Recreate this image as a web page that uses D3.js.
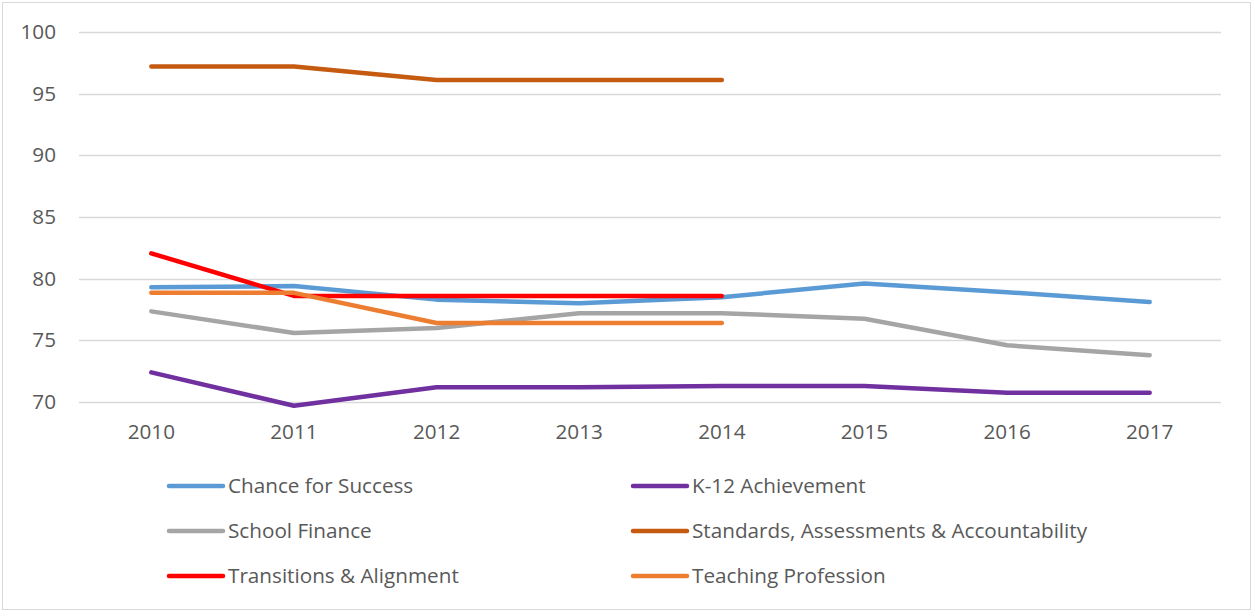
<!DOCTYPE html>
<html>
<head>
<meta charset="utf-8">
<script src="https://cdn.jsdelivr.net/npm/d3@7"></script>
<style>
  html, body { margin: 0; padding: 0; background: #fff; }
  svg { display: block; }
  text { font-family: "Open Sans", sans-serif; fill: #595959; }
</style>
</head>
<body>
<svg id="chart" width="1255" height="616"></svg>
<script>
const years = ["2010", "2011", "2012", "2013", "2014", "2015", "2016", "2017"];
const yTicks = [70, 75, 80, 85, 90, 95, 100];

const seriesNames = [
  "Chance for Success",
  "K-12 Achievement",
  "School Finance",
  "Standards, Assessments & Accountability",
  "Transitions & Alignment",
  "Teaching Profession"
];
const seriesColors = ["#5B9BD5", "#7030A0", "#A5A5A5", "#C55A11", "#FF0000", "#ED7D31"];

const chanceForSuccess   = [79.3, 79.4, 78.3, 78.0, 78.5, 79.6, 78.9, 78.1];
const k12Achievement     = [72.4, 69.7, 71.2, 71.2, 71.3, 71.3, 70.75, 70.75];
const schoolFinance      = [77.35, 75.6, 76.0, 77.2, 77.2, 76.75, 74.6, 73.8];
const standardsAA        = [97.2, 97.2, 96.1, 96.1, 96.1, null, null, null];
const transitions        = [82.05, 78.6, 78.6, 78.6, 78.6, null, null, null];
const teachingProfession = [78.85, 78.85, 76.4, 76.4, 76.4, null, null, null];

const seriesValues = [chanceForSuccess, k12Achievement, schoolFinance, standardsAA, transitions, teachingProfession];

const svg = d3.select("#chart");
const FONT = "20.7px";

// outer border
svg.append("rect")
  .attr("x", 2.5).attr("y", 2.5)
  .attr("width", 1248).attr("height", 607)
  .attr("fill", "#fff").attr("stroke", "#D9D9D9").attr("stroke-width", 1);

const plot = { left: 80, right: 1221, top: 32, bottom: 402 };

const x = d3.scaleBand().domain(years).range([plot.left, plot.right]);
const y = d3.scaleLinear().domain([70, 100]).range([plot.bottom, plot.top]);

// gridlines
svg.append("g")
  .selectAll("line")
  .data(yTicks)
  .join("line")
  .attr("x1", plot.left - 1).attr("x2", plot.right)
  .attr("y1", d => Math.round(y(d)) + 0.5).attr("y2", d => Math.round(y(d)) + 0.5)
  .attr("stroke", "#D9D9D9").attr("stroke-width", 1.5);

// y axis labels
const yAxis = d3.axisLeft(y).tickValues(yTicks).tickSize(0).tickPadding(24);
const gy = svg.append("g").attr("transform", `translate(${plot.left},0)`).call(yAxis);
gy.select(".domain").remove();
gy.selectAll("text").style("font-size", FONT).style("font-family", "'Open Sans', sans-serif").attr("fill", "#595959");

// x axis labels
const xAxis = d3.axisBottom(x).tickSize(0).tickPadding(22);
const gx = svg.append("g").attr("transform", `translate(0,${plot.bottom})`).call(xAxis);
gx.select(".domain").remove();
gx.selectAll("text").style("font-size", FONT).style("font-family", "'Open Sans', sans-serif").attr("fill", "#595959");

// lines
const line = d3.line()
  .defined(d => d.v !== null)
  .x(d => x(d.year) + x.bandwidth() / 2)
  .y(d => y(d.v));

seriesValues.forEach((vals, i) => {
  const data = years.map((yr, j) => ({ year: yr, v: vals[j] }));
  svg.append("path")
    .datum(data)
    .attr("d", line)
    .attr("fill", "none")
    .attr("stroke", seriesColors[i])
    .attr("stroke-width", 4.5)
    .attr("stroke-linecap", "round")
    .attr("stroke-linejoin", "round");
});

// legend
const legendCols = [169, 633];
const legendRows = [486, 531, 576];
const legend = svg.append("g");
seriesNames.forEach((name, i) => {
  const cx = legendCols[i % 2];
  const cy = legendRows[Math.floor(i / 2)];
  legend.append("line")
    .attr("x1", cx).attr("x2", cx + 54)
    .attr("y1", cy).attr("y2", cy)
    .attr("stroke", seriesColors[i]).attr("stroke-width", 4.5)
    .attr("stroke-linecap", "round");
  legend.append("text")
    .attr("x", cx + 59).attr("y", cy)
    .attr("dy", "0.35em")
    .style("font-size", FONT)
    .text(name);
});
</script>
</body>
</html>
